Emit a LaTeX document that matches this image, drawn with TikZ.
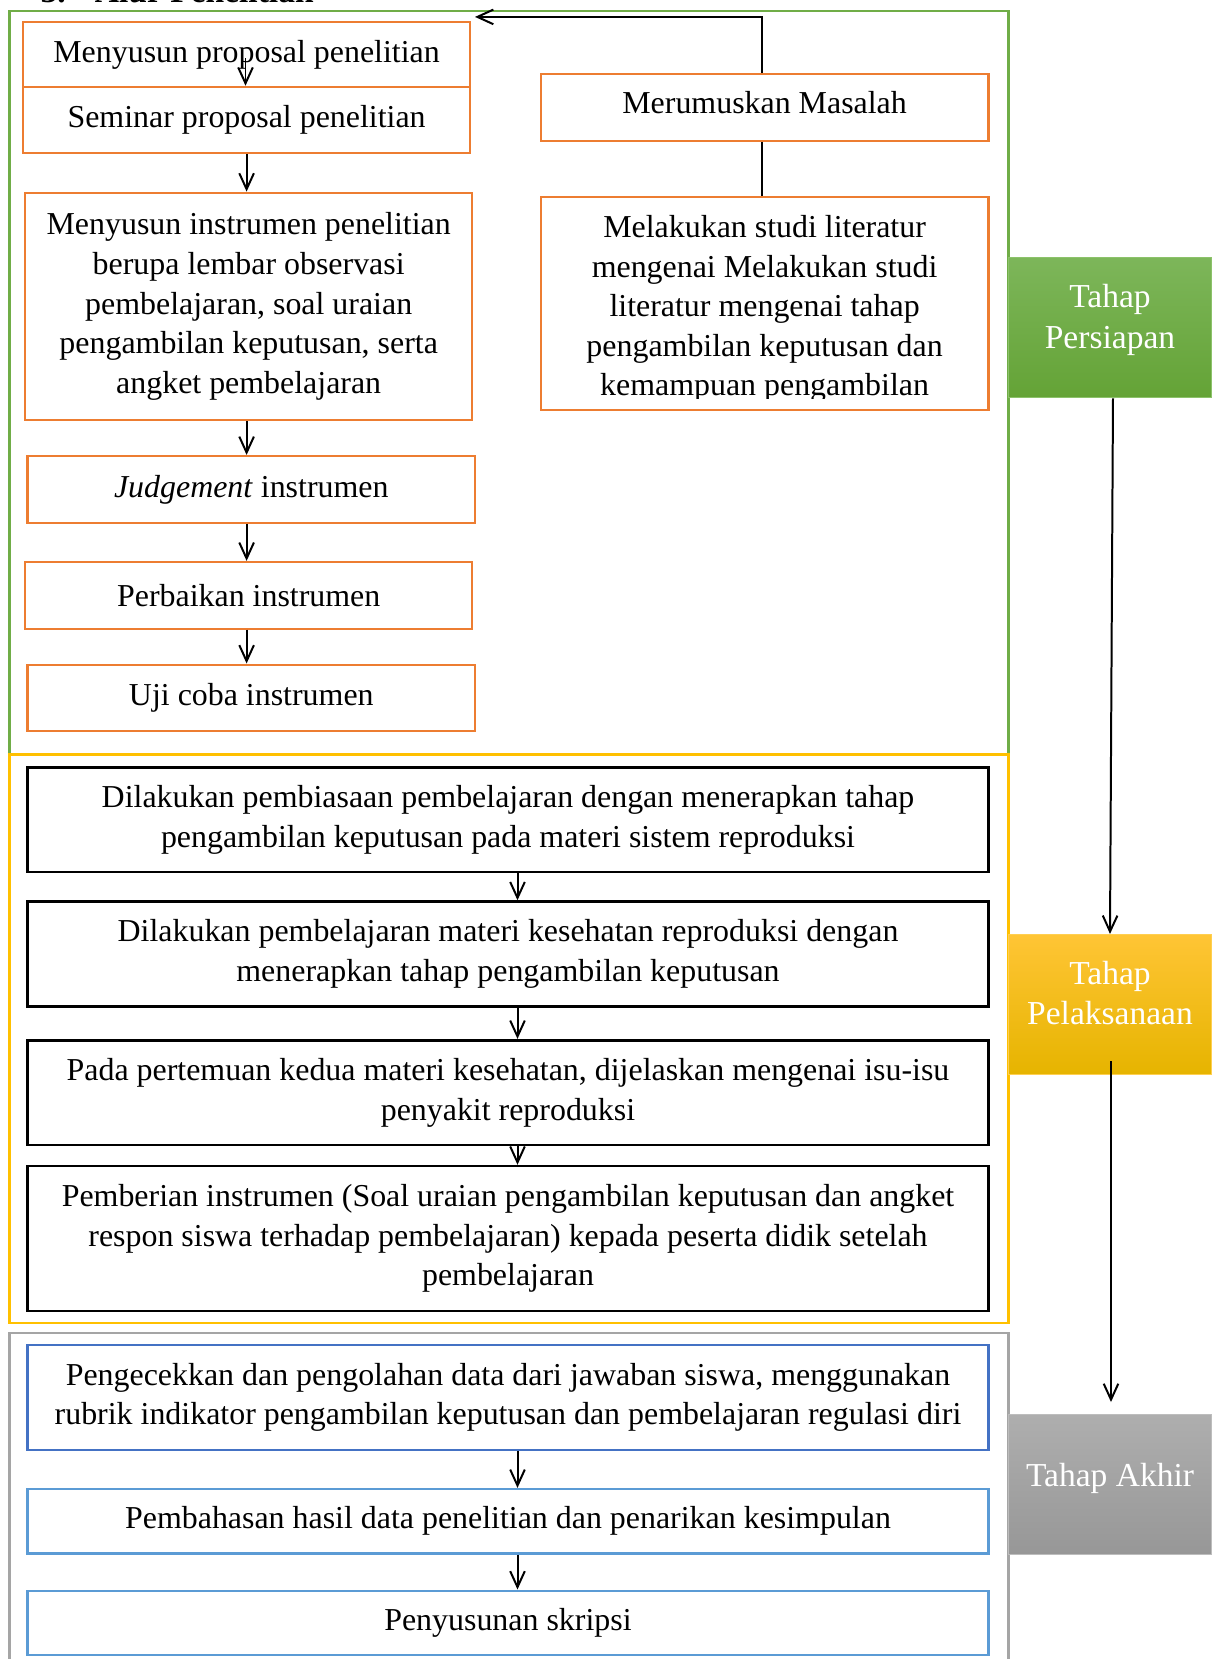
\documentclass[tikz,border=0pt]{standalone}
\usepackage{fontspec}
\setmainfont{Liberation Serif}
\usetikzlibrary{arrows.meta,calc}
\def\pxu{0.376pt}
\definecolor{ora}{HTML}{ED7D31}
\definecolor{grn}{HTML}{70AD47}
\definecolor{yel}{HTML}{FFC000}
\definecolor{gry}{HTML}{A5A5A5}
\definecolor{blu}{HTML}{4472C4}
\definecolor{lblu}{HTML}{5B9BD5}
\definecolor{gtop}{HTML}{7DB65A}
\definecolor{gbot}{HTML}{64A336}
\definecolor{gbrd}{HTML}{8CC26A}
\definecolor{ytop}{HTML}{FFC535}
\definecolor{ybot}{HTML}{E6B400}
\definecolor{ybrd}{HTML}{FFCF50}
\definecolor{ktop}{HTML}{AEAEAE}
\definecolor{kbot}{HTML}{979797}
\definecolor{kbrd}{HTML}{BDBDBD}
\tikzset{
  txt/.style={font=\fontsize{12pt}{14.9pt}\selectfont, align=center, inner sep=0pt},
  obox/.style={draw=ora, line width=0.8pt, inner sep=0pt, txt},
  kbox/.style={draw=black, line width=1pt, inner sep=0pt, txt},
  bbox/.style={draw=blu, line width=0.8pt, inner sep=0pt, txt},
  lbbox/.style={draw=lblu, line width=0.8pt, inner sep=0pt, txt},
  frame/.style={line width=0.8pt},
  sidebox/.style={inner sep=0pt, minimum width=203.1*\pxu, line width=0.4pt},
  sidetxt/.style={txt, text=white, font=\fontsize{12.6pt}{15.4pt}\selectfont},
  arr/.style={-{Straight Barb[length=6pt,width=5.5pt,line width=0.75pt]}, line width=0.75pt},
  conn/.style={line width=0.6pt}
}
\begin{document}
\begin{tikzpicture}[x=\pxu,y=-\pxu]
\useasboundingbox (0,0) rectangle (1219,1659);
% title (cut at top)
\node[anchor=base west, inner sep=0pt, font=\fontsize{12.6pt}{15pt}\selectfont\bfseries] (title) at (40,2) {3.\hspace{11pt}Alur Penelitian};
% frames
\draw[frame, draw=grn] (9.5,10.6) rectangle (1008.5,754.5);
\draw[frame, draw=yel] (9.5,754.5) rectangle (1008.5,1322.7);
\draw[frame, draw=gry] (9.5,1333) rectangle (1008.5,1675);
% orange boxes
\node[obox, minimum width=446.5*\pxu, minimum height=64.6*\pxu] (prop) at (246.6,54.5) {Menyusun proposal penelitian};
\node[obox, minimum width=446.5*\pxu, minimum height=66.6*\pxu] (sem) at (246.6,120.1) {Seminar proposal penelitian};
\node[obox, minimum width=446.6*\pxu, minimum height=227.5*\pxu] (instr) at (248.7,306.4) {Menyusun instrumen penelitian\\berupa lembar observasi\\pembelajaran, soal uraian\\pengambilan keputusan, serta\\angket pembelajaran};
\node[obox, minimum width=447.6*\pxu, minimum height=66.8*\pxu] (judg) at (251.3,489.4) {\textit{Judgement} instrumen};
\node[obox, minimum width=446.6*\pxu, minimum height=66.7*\pxu] (perb) at (248.7,595.3) {Perbaikan instrumen};
\node[obox, minimum width=447.6*\pxu, minimum height=66.7*\pxu] (uji) at (251.3,697.9) {Uji coba instrumen};
\node[obox, minimum width=447.7*\pxu, minimum height=66.6*\pxu, text depth=4pt] (rum) at (764.6,107.4) {Merumuskan Masalah};
\node[obox, minimum width=447.7*\pxu, minimum height=212.7*\pxu] (lit) at (764.6,303.2) {};
\begin{scope}
\clip (540.7,196.8) rectangle (988.4,398);
\node[txt] (littext) at (764.6,309) {Melakukan studi literatur\\mengenai Melakukan studi\\literatur mengenai tahap\\pengambilan keputusan dan\\kemampuan pengambilan};
\end{scope}
% black boxes
\node[kbox, minimum width=960.9*\pxu, minimum height=104.8*\pxu] (b1) at (508,819.6) {Dilakukan pembiasaan pembelajaran dengan menerapkan tahap\\pengambilan keputusan pada materi sistem reproduksi};
\node[kbox, minimum width=960.9*\pxu, minimum height=104.8*\pxu] (b2) at (508,954) {Dilakukan pembelajaran materi kesehatan reproduksi dengan\\menerapkan tahap pengambilan keputusan};
\node[kbox, minimum width=960.9*\pxu, minimum height=104.8*\pxu] (b3) at (508,1092.6) {Pada pertemuan kedua materi kesehatan, dijelaskan mengenai isu-isu\\penyakit reproduksi};
\node[kbox, minimum width=960.9*\pxu, minimum height=145*\pxu] (b4) at (508,1238.6) {Pemberian instrumen (Soal uraian pengambilan keputusan dan angket\\respon siswa terhadap pembelajaran) kepada peserta didik setelah\\pembelajaran};
% blue boxes
\node[bbox, minimum width=960.9*\pxu, minimum height=104.7*\pxu] (c1) at (508,1397.4) {Pengecekkan dan pengolahan data dari jawaban siswa, menggunakan\\rubrik indikator pengambilan keputusan dan pembelajaran regulasi diri};
\node[lbbox, minimum width=960.9*\pxu, minimum height=64.5*\pxu] (c2) at (508,1521.2) {Pembahasan hasil data penelitian dan penarikan kesimpulan};
\node[lbbox, minimum width=960.9*\pxu, minimum height=64.5*\pxu] (c3) at (508,1622.8) {Penyusunan skripsi};
% side boxes
\node[sidebox, minimum height=140.8*\pxu, top color=gtop, bottom color=gbot, draw=gbrd] (p1) at (1110,327.5) {};
\node[sidetxt] (p1t) at (1110,319.5) {Tahap\\Persiapan};
\node[sidebox, minimum height=139.7*\pxu, top color=ytop, bottom color=ybot, draw=ybrd] (p2) at (1110,1004.3) {};
\node[sidetxt] (p2t) at (1110,993) {Tahap\\Pelaksanaan};
\node[sidebox, minimum height=139.7*\pxu, top color=ktop, bottom color=kbot, draw=kbrd] (p3) at (1110,1484.7) {};
\node[sidetxt] (p3t) at (1110,1478) {Tahap Akhir};
% connectors
\coordinate (ps) at (245.5,58);
\draw[arr] (ps) -- (ps |- sem.north);
\draw[arr] (sem.south) -- (sem.south |- instr.north);
\draw[arr] ([xshift=-2.1*\pxu]instr.south) -- ([xshift=-2.1*\pxu]instr.south |- judg.north);
\draw[arr] ([xshift=-4.7*\pxu]judg.south) -- ([xshift=-4.7*\pxu]judg.south |- perb.north);
\draw[arr] ([xshift=-2.1*\pxu]perb.south) -- ([xshift=-2.1*\pxu]perb.south |- uji.north);
\coordinate (ret) at (475,16.9);
\draw[arr] ([xshift=-2.6*\pxu]rum.north) |- (ret);
\draw[conn] ([xshift=-2.6*\pxu]rum.south) -- ([xshift=-2.6*\pxu]lit.north);
\draw[arr] ([xshift=9.5*\pxu]b1.south) -- ([xshift=9.5*\pxu]b2.north);
\draw[arr] ([xshift=9.5*\pxu]b2.south) -- ([xshift=9.5*\pxu]b3.north);
\draw[arr] ([xshift=9.5*\pxu]b3.south) -- ([xshift=9.5*\pxu]b4.north);
\draw[arr] ([xshift=9.5*\pxu]c1.south) -- ([xshift=9.5*\pxu]c2.north);
\draw[arr] ([xshift=9.5*\pxu]c2.south) -- ([xshift=9.5*\pxu]c3.north);
\draw[arr] ([xshift=3*\pxu]p1.south) -- ([xshift=0*\pxu]p2.north);
\coordinate (a2s) at (1111,1061.4);
\coordinate (a2e) at (1111,1402);
\draw[arr] (a2s) -- (a2e);
\end{tikzpicture}
\end{document}
